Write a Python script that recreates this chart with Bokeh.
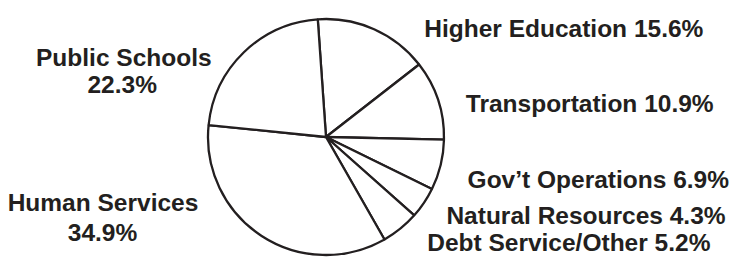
import math
from bokeh.plotting import figure
from bokeh.models import ColumnDataSource, Range1d
from bokeh.core.properties import value
from bokeh.embed import file_html
from bokeh.resources import INLINE

# data (clockwise order, starting near the top)
categories = ["Higher Education", "Transportation", "Gov\u2019t Operations",
              "Natural Resources", "Debt Service/Other", "Human Services",
              "Public Schools"]
shares = [15.6, 10.9, 6.9, 4.3, 5.2, 34.9, 22.3]

start_deg = 94.0
total = sum(shares)
starts, ends = [], []
acc = 0.0
for v in shares:
    a0 = start_deg - acc / total * 360.0
    a1 = start_deg - (acc + v) / total * 360.0
    starts.append(math.radians(a1))
    ends.append(math.radians(a0))
    acc += v

W, H = 735, 257
p = figure(width=W, height=H, output_backend="svg", toolbar_location=None,
           x_range=Range1d(0, W), y_range=Range1d(0, H),
           min_border=0, background_fill_color="white", border_fill_color="white")
p.axis.visible = False
p.grid.visible = False
p.outline_line_color = None

cx, cy, r = 325.5, 120.5, 118
src = ColumnDataSource(dict(start=starts, end=ends, cat=categories))
p.wedge(x=cx, y=cy, radius=r, start_angle="start", end_angle="end", source=src,
        fill_color="white", line_color="#231f20", line_width=2.3)

font = value("Liberation Sans")
col = "#231f20"
fs = "24.5px"

def lab(x, y_base, txt, align="center"):
    p.text(x=[x], y=[H - y_base], text=[txt], text_font=font, text_font_style="bold",
           text_font_size=fs, text_color=col, text_align=align, text_baseline="alphabetic")

lab(563.3, 28.3, f"{categories[0]} {shares[0]}%")
lab(589.2, 103.3, f"{categories[1]} {shares[1]}%")
lab(597.8, 179.0, f"{categories[2]} {shares[2]}%")
lab(585.5, 214.5, f"{categories[3]} {shares[3]}%")
lab(568.3, 241.7, f"{categories[4]} {shares[4]}%")
lab(123.3, 56.7, categories[6])
lab(121.7, 84.3, f"{shares[6]}%")
lab(102.5, 201.7, categories[5])
lab(102.0, 231.7, f"{shares[5]}%")

open("out.html", "w").write(file_html(p, INLINE))
